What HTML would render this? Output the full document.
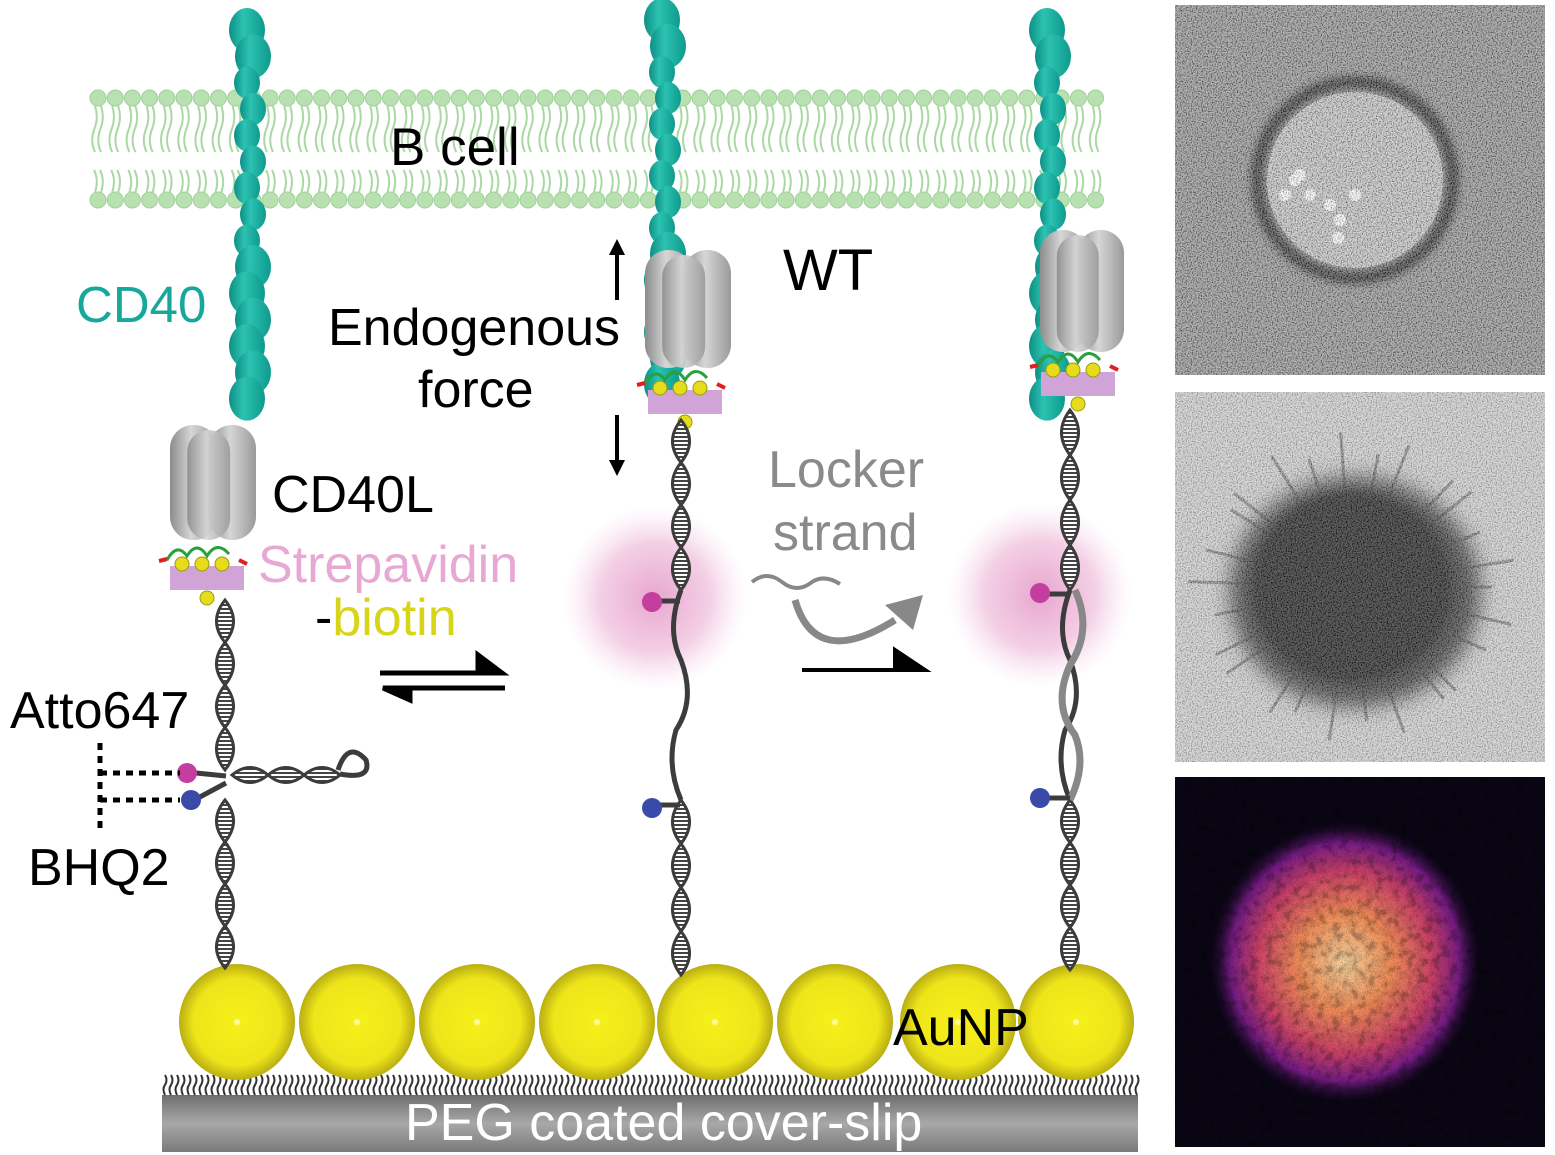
<!DOCTYPE html>
<html><head><meta charset="utf-8"><style>
html,body{margin:0;padding:0;background:#fff}
svg{display:block}
text{font-family:"Liberation Sans",Arial,sans-serif}
</style></head><body>
<svg id="s" width="1555" height="1155" viewBox="0 0 1555 1155">
<defs>
<radialGradient id="gold" cx="50%" cy="50%" r="50%"><stop offset="0" stop-color="#f7f01a"/><stop offset="0.75" stop-color="#eee51a"/><stop offset="1" stop-color="#b9ae12"/></radialGradient>
<radialGradient id="glow" cx="50%" cy="50%" r="50%"><stop offset="0" stop-color="#e59cc9" stop-opacity="0.9"/><stop offset="0.6" stop-color="#eaa8d0" stop-opacity="0.55"/><stop offset="1" stop-color="#f4d0e6" stop-opacity="0"/></radialGradient>
<linearGradient id="slip" x1="0" y1="0" x2="0" y2="1"><stop offset="0" stop-color="#6e6e6e"/><stop offset="0.5" stop-color="#a8a8a8"/><stop offset="1" stop-color="#7a7a7a"/></linearGradient>
<linearGradient id="cyl" x1="0" y1="0" x2="1" y2="0"><stop offset="0" stop-color="#8c8c8c"/><stop offset="0.45" stop-color="#d6d6d6"/><stop offset="1" stop-color="#9a9a9a"/></linearGradient>
<linearGradient id="teal" x1="0" y1="0" x2="1" y2="0"><stop offset="0" stop-color="#0c8f85"/><stop offset="0.4" stop-color="#2cc2b2"/><stop offset="1" stop-color="#0e9a8d"/></linearGradient>
<pattern id="stripe" width="6" height="4" patternUnits="userSpaceOnUse"><rect width="6" height="4" fill="#fff"/><rect width="6" height="2" fill="#444"/></pattern>
<filter id="grain" x="0" y="0" width="100%" height="100%"><feTurbulence type="fractalNoise" baseFrequency="0.8" numOctaves="1" seed="3"/><feColorMatrix type="matrix" values="3 0 0 0 -1  3 0 0 0 -1  3 0 0 0 -1  0 0 0 0 1"/></filter>
<filter id="grain2" x="0" y="0" width="100%" height="100%"><feTurbulence type="fractalNoise" baseFrequency="0.12" numOctaves="3" seed="9"/><feColorMatrix type="matrix" values="3 0 0 0 -1  3 0 0 0 -1  3 0 0 0 -1  0 0 0 0 1"/></filter>
<filter id="blur4"><feGaussianBlur stdDeviation="4"/></filter>
<filter id="blur10"><feGaussianBlur stdDeviation="10"/></filter>
<radialGradient id="magma" cx="50%" cy="50%" r="50%"><stop offset="0" stop-color="#fcd8a0"/><stop offset="0.35" stop-color="#f7905a"/><stop offset="0.65" stop-color="#d1436b"/><stop offset="0.85" stop-color="#7b1c8a"/><stop offset="1" stop-color="#2a0b40" stop-opacity="0"/></radialGradient>
<clipPath id="c3"><rect x="1175" y="777" width="370" height="370"/></clipPath>
<clipPath id="c2"><rect x="1175" y="392" width="370" height="370"/></clipPath>
<clipPath id="c1"><rect x="1175" y="5" width="370" height="370"/></clipPath>
</defs>
<g id="membrane"></g>
<g id="mol"></g>
<g id="labels" font-size="52">
<text x="390" y="165" font-size="53">B cell</text>
<text x="76" y="322" fill="#17a89b" font-size="51">CD40</text>
<text x="272" y="512">CD40L</text>
<text x="258" y="582" fill="#e8a8d4">Strepavidin</text>
<text x="315" y="635">-<tspan fill="#d8d418">biotin</tspan></text>
<text x="328" y="345">Endogenous</text>
<text x="418" y="407">force</text>
<text x="783" y="290" font-size="58">WT</text>
<text x="768" y="487" fill="#8a8a8a">Locker</text>
<text x="773" y="550" fill="#8a8a8a">strand</text>
<text x="10" y="728">Atto647</text>
<text x="28" y="885">BHQ2</text>
<text x="893" y="1045">AuNP</text>
</g>
<g id="panels"></g>
</svg>
<script>
const NS='http://www.w3.org/2000/svg';
function mk(tag,attrs,parent){const e=document.createElementNS(NS,tag);for(const k in attrs)e.setAttribute(k,attrs[k]);(parent||document.getElementById('mol')).appendChild(e);return e;}
const mem=document.getElementById('membrane');
for(let x=98;x<=1108;x+=17.2){
  for(const y of [98,200]){mk('circle',{cx:x,cy:y,r:8,fill:'#b8e0b0',stroke:'#9fd198','stroke-width':1},mem);}
  mk('path',{d:`M${x-3},106 q4,12 -1,24 q-4,12 1,22 M${x+3},106 q4,12 -1,24 q-4,12 1,22 M${x-3},192 q4,-12 -1,-22 M${x+3},192 q4,-12 -1,-22`,stroke:'#a9d9a2','stroke-width':2,fill:'none'},mem);
}
const slip=mk('rect',{x:162,y:1095,width:976,height:57,fill:'url(#slip)'});

let d='';for(let x=165;x<1138;x+=6){d+=`M${x},1095 q-3,-6 0,-10 q3,-5 0,-10 `;}
mk('path',{d:d,stroke:'#333','stroke-width':2,fill:'none'});
const st=mk('text',{x:405,y:1140,fill:'#fff','font-size':52});st.textContent='PEG coated cover-slip';

const aunpX=[237,357,477,597,715,835,958,1076];
aunpX.forEach((x,i)=>{const c=mk('circle',{cx:x,cy:1022,r:58,fill:'url(#gold)'});mk('circle',{cx:x,cy:1022,r:3,fill:'#fff8a0'});});
function helix(x,y1,y2,seg){seg=seg||44;const n=Math.round((y2-y1)/seg);const s=(y2-y1)/n;for(let i=0;i<n;i++){const a=y1+i*s,b=a+s;
 mk('path',{d:`M${x},${a} Q${x+17},${a+s/2} ${x},${b} Q${x-17},${a+s/2} ${x},${a}Z`,fill:'url(#stripe)',stroke:'#3c3c3c','stroke-width':3});}}
function helixH(x1,x2,y,seg){const n=Math.round((x2-x1)/seg);const s=(x2-x1)/n;for(let i=0;i<n;i++){const a=x1+i*s,b=a+s;
 mk('path',{d:`M${a},${y} Q${a+s/2},${y+15} ${b},${y} Q${a+s/2},${y-15} ${a},${y}Z`,fill:'url(#stripe)',stroke:'#3c3c3c','stroke-width':3});}}
function cd40(x,y1,y2){const n=Math.round((y2-y1)/26);for(let i=0;i<n;i++){const y=y1+i*(y2-y1)/n;const big=i<2||i>n-7;
 mk('ellipse',{cx:x+(i%2?3:-3),cy:y+15,rx:big?18:13,ry:big?22:16,fill:'url(#teal)'});}}
function cd40l(x,y,w,h){mk('rect',{x:x,y:y,width:w*0.55,height:h,rx:w*0.27,fill:'url(#cyl)'});mk('rect',{x:x+w*0.45,y:y,width:w*0.55,height:h,rx:w*0.27,fill:'url(#cyl)'});mk('rect',{x:x+w*0.2,y:y+5,width:w*0.5,height:h-5,rx:w*0.25,fill:'url(#cyl)',opacity:0.9});}
function strep(x,y){mk('rect',{x:x-37,y:y,width:74,height:24,fill:'#d0a4d6'});
 mk('path',{d:`M${x-40},${y-6} q10,-18 20,-4 q10,-16 20,0 q10,-16 22,-2`,stroke:'#28a03c','stroke-width':3,fill:'none'});
 mk('path',{d:`M${x-48},${y-5} l8,-2 M${x+32},${y-6} l8,4`,stroke:'#e02020','stroke-width':4});
 for(const dx of [-25,-5,15]) mk('circle',{cx:x+dx,cy:y-2,r:7,fill:'#e6dc1c',stroke:'#999a10','stroke-width':1});
 mk('circle',{cx:x,cy:y+32,r:7,fill:'#e6dc1c',stroke:'#999a10','stroke-width':1});}
function dot(x,y,c){mk('circle',{cx:x,cy:y,r:10,fill:c});}
mk('circle',{cx:655,cy:598,r:92,fill:'url(#glow)'});mk('circle',{cx:1040,cy:595,r:92,fill:'url(#glow)'});
cd40(250,15,410);cd40l(170,425,86,115);strep(207,566);
helix(225,600,770,42);helix(225,800,968,42);helixH(232,340,775,40);
mk('path',{d:'M338,770 q10,-30 28,-10 q6,20 -26,14',stroke:'#3c3c3c','stroke-width':5,fill:'none'});
mk('path',{d:'M196,773 l30,3 M198,798 l28,-15',stroke:'#3c3c3c','stroke-width':5});
dot(187,773,'#c43ea0');dot(191,800,'#3a4aa8');
mk('path',{d:'M100,743 v90 M100,773 h80 M100,800 h80',stroke:'#000','stroke-width':5,'stroke-dasharray':'7,6',fill:'none'});
cd40(665,5,395);cd40l(645,250,86,118);strep(685,390);
helix(681,420,590,42);
mk('path',{d:'M681,590 q-15,40 0,70 q15,40 -5,70 q-10,35 5,70',stroke:'#3c3c3c','stroke-width':5,fill:'none'});
helix(681,800,975,42);
mk('path',{d:'M660,601 h20 M660,805 h20',stroke:'#3c3c3c','stroke-width':5});
dot(652,602,'#c43ea0');dot(652,808,'#3a4aa8');
cd40(1050,15,410);cd40l(1040,230,84,122);strep(1078,372);
helix(1070,410,590,42);helix(1070,800,970,42);
mk('path',{d:'M1070,590 q-15,40 0,70 q15,40 -5,70 q-10,35 5,70',stroke:'#3c3c3c','stroke-width':5,fill:'none'});
mk('path',{d:'M1075,590 q18,40 -5,75 q-18,40 5,70 q12,30 -5,65',stroke:'#888','stroke-width':7,fill:'none'});
mk('path',{d:'M1045,594 h25 M1045,798 h25',stroke:'#3c3c3c','stroke-width':5});
dot(1040,593,'#c43ea0');dot(1040,798,'#3a4aa8');
mk('path',{d:'M617,300 V250 M617,415 V465',stroke:'#000','stroke-width':4});
mk('path',{d:'M609,255 l8,-16 l8,16Z M609,460 l8,16 l8,-16Z',fill:'#000'});
mk('path',{d:'M380,673 H502 L478,655 V673 M505,688 H383 L410,700 V688',stroke:'#000','stroke-width':5,fill:'#000'});
mk('path',{d:'M802,670 H925 L895,650 V670Z',stroke:'#000','stroke-width':4,fill:'#000'});
mk('path',{d:'M752,582 q15,-12 30,0 q15,12 30,0 q12,-8 28,2',stroke:'#888','stroke-width':4,fill:'none'});
mk('path',{d:'M795,600 q20,70 100,20',stroke:'#888','stroke-width':7,fill:'none'});
mk('path',{d:'M885,605 l38,-10 l-10,35Z',fill:'#888'});
const P=document.getElementById('panels');
function panel(y,bg,name,clip,fn){const g=mk('g',{'clip-path':'url(#'+clip+')'},P);
 mk('rect',{x:1175,y:y,width:370,height:370,fill:bg},g);fn(g,y);}
panel(5,'#8a8a8a','brightfield-image','c1',(g,y)=>{
 mk('circle',{cx:1355,cy:y+175,r:98,fill:'none',stroke:'#1a1a1a','stroke-width':12,filter:'url(#blur4)'},g);
 mk('circle',{cx:1355,cy:y+175,r:88,fill:'#c0c0c0'},g);
 [[1295,180],[1310,195],[1285,195],[1330,205],[1340,220],[1355,195],[1338,238],[1300,175]].forEach(p=>mk('circle',{cx:p[0],cy:p[1],r:6,fill:'#fff'},g));
 mk('rect',{x:1175,y:y,width:370,height:370,filter:'url(#grain)',opacity:0.4},g);
});
panel(392,'#cfcfcf','reflection-image','c2',(g,y)=>{
 for(let a=0;a<360;a+=14){const r=a*Math.PI/180;mk('line',{x1:1352,y1:y+195,x2:1352+Math.cos(r)*(140+(a%3)*12),y2:y+195+Math.sin(r)*(135+(a%4)*10),stroke:'#555','stroke-width':3,opacity:0.6},g);}
 mk('ellipse',{cx:1355,cy:y+200,rx:125,ry:115,fill:'#3a3a3a',filter:'url(#blur10)'},g);
 mk('ellipse',{cx:1352,cy:y+195,rx:100,ry:95,fill:'#202020',filter:'url(#blur4)'},g);
 mk('rect',{x:1175,y:y,width:370,height:370,filter:'url(#grain)',opacity:0.3},g);
});
panel(777,'#0a0514','fluorescence-image','c3',(g,y)=>{
 mk('ellipse',{cx:1345,cy:y+185,rx:135,ry:140,fill:'url(#magma)'},g);
 mk('rect',{x:1175,y:y,width:370,height:370,filter:'url(#grain2)',opacity:0.25,style:'mix-blend-mode:multiply'},g);
 mk('rect',{x:1175,y:y,width:370,height:370,filter:'url(#grain)',opacity:0.2,style:'mix-blend-mode:multiply'},g);
});
</script>
</body></html>
